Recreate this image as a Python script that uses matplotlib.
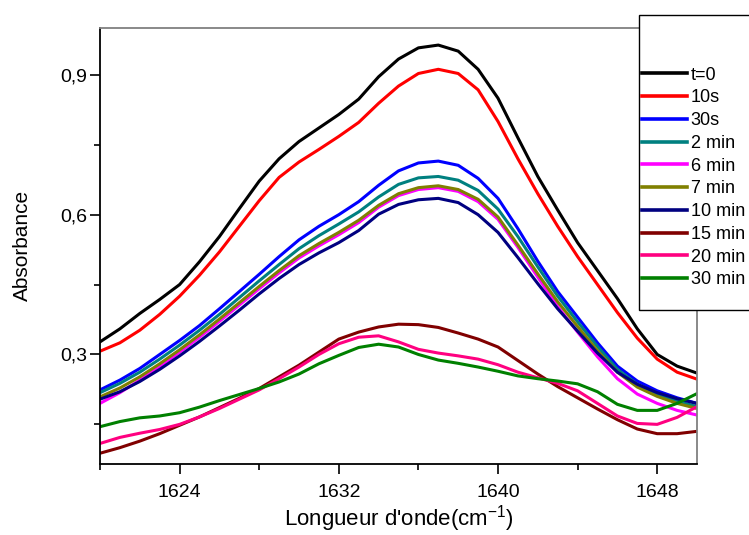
import matplotlib
matplotlib.use("Agg")
import matplotlib.pyplot as plt
from matplotlib.patches import Rectangle
from matplotlib.ticker import FixedLocator, FuncFormatter

plt.rcParams['font.family'] = ['Liberation Sans', 'DejaVu Sans']
plt.rcParams['mathtext.fontset'] = 'custom'
plt.rcParams['mathtext.rm'] = 'Liberation Sans'
plt.rcParams['mathtext.it'] = 'Liberation Sans:italic'

wavenumber = list(range(1620, 1651))

labels = ["t=0", "10s", "30s", "2 min", "6 min", "7 min", "10 min", "15 min", "20 min", "30 min"]
colors = ["#000000", "#FF0000", "#0000FF", "#008080", "#FF00FF", "#808000", "#000080", "#800000", "#FF0080", "#008000"]

a_t0 = [0.327, 0.355, 0.388, 0.418, 0.450, 0.499, 0.553, 0.613, 0.672, 0.720, 0.757, 0.786, 0.815, 0.848, 0.896, 0.934,
        0.958, 0.964, 0.951, 0.912, 0.850, 0.765, 0.682, 0.610, 0.540, 0.480, 0.420, 0.355, 0.300, 0.275, 0.260]
a_10s = [0.307, 0.325, 0.352, 0.386, 0.425, 0.470, 0.520, 0.575, 0.630, 0.680, 0.713, 0.740, 0.768, 0.798, 0.839, 0.876,
         0.903, 0.912, 0.903, 0.868, 0.800, 0.720, 0.645, 0.575, 0.510, 0.450, 0.390, 0.335, 0.290, 0.262, 0.247]
a_30s = [0.224, 0.245, 0.270, 0.300, 0.330, 0.362, 0.398, 0.435, 0.472, 0.510, 0.546, 0.575, 0.600, 0.628, 0.663, 0.694,
         0.711, 0.715, 0.706, 0.678, 0.635, 0.570, 0.500, 0.435, 0.380, 0.325, 0.275, 0.243, 0.222, 0.207, 0.195]
a_2min = [0.218, 0.238, 0.262, 0.290, 0.320, 0.352, 0.386, 0.422, 0.458, 0.493, 0.527, 0.555, 0.580, 0.606, 0.638, 0.665,
          0.679, 0.682, 0.674, 0.652, 0.612, 0.553, 0.488, 0.425, 0.370, 0.317, 0.268, 0.236, 0.215, 0.200, 0.188]
a_6min = [0.195, 0.218, 0.245, 0.274, 0.305, 0.337, 0.371, 0.406, 0.441, 0.475, 0.507, 0.533, 0.557, 0.583, 0.616, 0.641,
          0.654, 0.658, 0.650, 0.628, 0.590, 0.530, 0.466, 0.403, 0.348, 0.295, 0.248, 0.215, 0.195, 0.180, 0.170]
a_7min = [0.209, 0.228, 0.252, 0.280, 0.310, 0.342, 0.376, 0.411, 0.446, 0.480, 0.512, 0.538, 0.562, 0.588, 0.620, 0.645,
          0.658, 0.662, 0.654, 0.633, 0.595, 0.535, 0.473, 0.413, 0.360, 0.308, 0.262, 0.230, 0.210, 0.195, 0.184]
a_10min = [0.204, 0.220, 0.242, 0.268, 0.297, 0.328, 0.361, 0.395, 0.430, 0.463, 0.493, 0.518, 0.540, 0.566, 0.601, 0.622,
           0.632, 0.635, 0.626, 0.600, 0.562, 0.508, 0.452, 0.398, 0.350, 0.303, 0.262, 0.236, 0.218, 0.205, 0.195]
a_15min = [0.088, 0.100, 0.114, 0.130, 0.148, 0.166, 0.186, 0.206, 0.227, 0.252, 0.277, 0.305, 0.333, 0.348, 0.359, 0.365,
           0.364, 0.358, 0.346, 0.333, 0.316, 0.287, 0.258, 0.231, 0.207, 0.183, 0.160, 0.140, 0.130, 0.130, 0.135]
a_20min = [0.109, 0.122, 0.131, 0.139, 0.150, 0.166, 0.184, 0.204, 0.224, 0.248, 0.273, 0.300, 0.323, 0.337, 0.340, 0.327,
           0.311, 0.303, 0.297, 0.290, 0.278, 0.262, 0.250, 0.238, 0.222, 0.195, 0.168, 0.152, 0.150, 0.165, 0.188]
a_30min = [0.145, 0.156, 0.164, 0.168, 0.175, 0.187, 0.201, 0.214, 0.227, 0.241, 0.258, 0.280, 0.298, 0.315, 0.322, 0.316,
           0.300, 0.288, 0.281, 0.273, 0.264, 0.254, 0.248, 0.243, 0.237, 0.220, 0.193, 0.180, 0.180, 0.195, 0.216]

series = [a_t0, a_10s, a_30s, a_2min, a_6min, a_7min, a_10min, a_15min, a_20min, a_30min]

x_major = [1624, 1632, 1640, 1648]
x_minor = [1620, 1628, 1636, 1644]
y_major = [0.3, 0.6, 0.9]
y_minor = [0.15, 0.45, 0.75]

fig = plt.figure(figsize=(7.49, 5.35), dpi=100)
ax = fig.add_axes([100/749, 1 - 463.5/535, 597/749, (463.5 - 28.3)/535])

handles = []
for ys, c, lab in zip(series, colors, labels):
    h, = ax.plot(wavenumber, ys, color=c, lw=2.2, label=lab, solid_joinstyle='round')
    handles.append(h)

ax.set_xlim(1620, 1650)
ax.set_ylim(0.066, 1.0)
ax.xaxis.set_major_locator(FixedLocator(x_major))
ax.xaxis.set_minor_locator(FixedLocator(x_minor))
ax.yaxis.set_major_locator(FixedLocator(y_major))
ax.yaxis.set_minor_locator(FixedLocator(y_minor))
ax.yaxis.set_major_formatter(FuncFormatter(lambda v, p: f"{v:.1f}".replace('.', ',')))
ax.tick_params(which='major', direction='out', length=7.5, width=1.2, labelsize=14, color='black')
ax.tick_params(which='minor', direction='out', length=4, width=1.2, color='black')
ax.tick_params(axis='x', pad=7)
ax.tick_params(axis='y', pad=2)

for s in ['left', 'bottom']:
    ax.spines[s].set_linewidth(1.3)
    ax.spines[s].set_color('black')
for s in ['top', 'right']:
    ax.spines[s].set_linewidth(1.3)
    ax.spines[s].set_color('#808080')

ax.set_xlabel("Longueur d'onde(cm$^{\\mathregular{-1}}$)", fontsize=16, labelpad=2)
ax.set_ylabel("Absorbance", fontsize=15, labelpad=20)

rect = Rectangle((639/749, 1 - 310/535), 0.2, (310 - 15)/535, transform=fig.transFigure,
                 facecolor='white', edgecolor='black', lw=1.0, zorder=5)
fig.patches.append(rect)

leg = fig.legend(handles, labels, loc='upper left', bbox_to_anchor=(642/749, 1 - 66.5/535),
                 frameon=False, borderpad=0, borderaxespad=0, handlelength=2.5, handletextpad=0.2,
                 labelspacing=0.32, fontsize=13)
leg.set_zorder(6)
for lh in leg.get_lines():
    lh.set_linewidth(2.6)

fig.savefig("out.png", dpi=100)
